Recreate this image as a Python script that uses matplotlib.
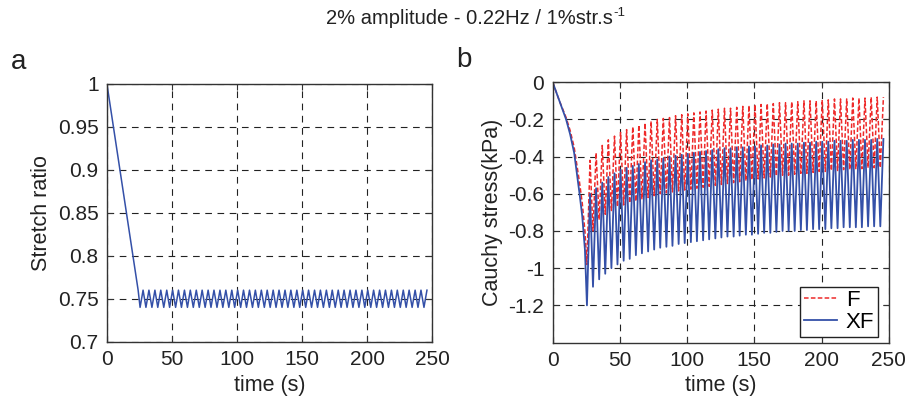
import matplotlib
matplotlib.use("Agg")
import matplotlib.pyplot as plt
import numpy as np

plt.rcParams['font.family'] = ['Liberation Sans', 'DejaVu Sans']

# ---------------- data ----------------
ramp_time = [0, 5, 10, 13, 16, 20, 22, 24]
stretch_ramp = [1.0, 0.95, 0.90, 0.87, 0.84, 0.80, 0.78, 0.76]
xf_ramp = [0.0, -0.10, -0.20, -0.28, -0.38, -0.60, -0.72, -0.90]
f_ramp = [0.0, -0.10, -0.19, -0.26, -0.35, -0.54, -0.65, -0.80]

trough_time = [25.5, 30.0, 34.6, 39.1, 43.7, 48.2, 52.8, 57.3, 61.9, 66.4,
               71.0, 75.5, 80.0, 84.6, 89.1, 93.7, 98.2, 102.8, 107.3, 111.9,
               116.4, 121.0, 125.5, 130.0, 134.6, 139.1, 143.7, 148.2, 152.8, 157.3,
               161.9, 166.4, 171.0, 175.5, 180.0, 184.6, 189.1, 193.7, 198.2, 202.8,
               207.3, 211.9, 216.4, 221.0, 225.5, 230.0, 234.6, 239.1, 243.7]
peak_time = [27.8, 32.3, 36.9, 41.4, 46.0, 50.5, 55.0, 59.6, 64.1, 68.7,
             73.2, 77.8, 82.3, 86.9, 91.4, 96.0, 100.5, 105.0, 109.6, 114.1,
             118.7, 123.2, 127.8, 132.3, 136.9, 141.4, 146.0, 150.5, 155.0, 159.6,
             164.1, 168.7, 173.2, 177.8, 182.3, 186.9, 191.4, 196.0, 200.5, 205.0,
             209.6, 214.1, 218.7, 223.2, 227.8, 232.3, 236.9, 241.4, 246.0]

stretch_trough = [0.74, 0.74, 0.74, 0.74, 0.74, 0.74, 0.74, 0.74, 0.74, 0.74,
                  0.74, 0.74, 0.74, 0.74, 0.74, 0.74, 0.74, 0.74, 0.74, 0.74,
                  0.74, 0.74, 0.74, 0.74, 0.74, 0.74, 0.74, 0.74, 0.74, 0.74,
                  0.74, 0.74, 0.74, 0.74, 0.74, 0.74, 0.74, 0.74, 0.74, 0.74,
                  0.74, 0.74, 0.74, 0.74, 0.74, 0.74, 0.74, 0.74, 0.74]
stretch_peak = [0.76, 0.76, 0.76, 0.76, 0.76, 0.76, 0.76, 0.76, 0.76, 0.76,
                0.76, 0.76, 0.76, 0.76, 0.76, 0.76, 0.76, 0.76, 0.76, 0.76,
                0.76, 0.76, 0.76, 0.76, 0.76, 0.76, 0.76, 0.76, 0.76, 0.76,
                0.76, 0.76, 0.76, 0.76, 0.76, 0.76, 0.76, 0.76, 0.76, 0.76,
                0.76, 0.76, 0.76, 0.76, 0.76, 0.76, 0.76, 0.76, 0.76]

xf_trough = [-1.20, -1.10, -1.06, -1.03, -1.00, -0.98, -0.96, -0.95, -0.93, -0.92,
             -0.91, -0.90, -0.89, -0.885, -0.88, -0.87, -0.865, -0.86, -0.855, -0.85,
             -0.845, -0.84, -0.835, -0.83, -0.83, -0.825, -0.82, -0.82, -0.815, -0.81,
             -0.81, -0.805, -0.80, -0.80, -0.80, -0.795, -0.795, -0.79, -0.79, -0.79,
             -0.785, -0.785, -0.78, -0.78, -0.78, -0.78, -0.775, -0.775, -0.775]
xf_peak = [-0.60, -0.57, -0.54, -0.51, -0.49, -0.47, -0.46, -0.45, -0.44, -0.43,
           -0.42, -0.415, -0.41, -0.40, -0.395, -0.39, -0.385, -0.38, -0.375, -0.37,
           -0.365, -0.36, -0.355, -0.355, -0.35, -0.35, -0.345, -0.345, -0.34, -0.34,
           -0.335, -0.335, -0.33, -0.33, -0.33, -0.325, -0.325, -0.32, -0.32, -0.32,
           -0.315, -0.315, -0.315, -0.31, -0.31, -0.31, -0.31, -0.305, -0.305]

f_trough = [-0.98, -0.80, -0.74, -0.71, -0.69, -0.67, -0.66, -0.65, -0.64, -0.63,
            -0.62, -0.61, -0.60, -0.595, -0.59, -0.585, -0.58, -0.575, -0.57, -0.565,
            -0.56, -0.555, -0.55, -0.545, -0.54, -0.535, -0.53, -0.525, -0.52, -0.515,
            -0.51, -0.505, -0.50, -0.50, -0.495, -0.49, -0.49, -0.485, -0.48, -0.48,
            -0.475, -0.475, -0.47, -0.47, -0.465, -0.465, -0.46, -0.46, -0.46]
f_peak = [-0.42, -0.38, -0.34, -0.31, -0.29, -0.27, -0.255, -0.24, -0.23, -0.22,
          -0.21, -0.20, -0.195, -0.19, -0.18, -0.175, -0.17, -0.165, -0.16, -0.155,
          -0.15, -0.145, -0.14, -0.14, -0.135, -0.13, -0.125, -0.12, -0.12, -0.115,
          -0.115, -0.11, -0.11, -0.105, -0.105, -0.10, -0.10, -0.10, -0.095, -0.095,
          -0.09, -0.09, -0.09, -0.085, -0.085, -0.085, -0.08, -0.08, -0.08]

x_ticks = [0, 50, 100, 150, 200, 250]
stretch_ticks = [0.7, 0.75, 0.8, 0.85, 0.9, 0.95, 1.0]
stretch_ticklabels = ["0.7", "0.75", "0.8", "0.85", "0.9", "0.95", "1"]
stress_ticks = [-1.2, -1.0, -0.8, -0.6, -0.4, -0.2, 0.0]
stress_ticklabels = ["-1.2", "-1", "-0.8", "-0.6", "-0.4", "-0.2", "0"]
series_names = ["F", "XF"]


def series(ramp_vals, troughs, peaks):
    t = list(ramp_time)
    v = list(ramp_vals)
    for tt, tv, pt, pv in zip(trough_time, troughs, peak_time, peaks):
        t += [tt, pt]
        v += [tv, pv]
    return np.array(t), np.array(v)


BLUE = "#3450a8"
RED = "#ee2a2a"
FS = 15

fig = plt.figure(figsize=(9.06, 4.03), dpi=100)
axL = fig.add_axes([0.118, 0.152, 0.359, 0.640])
axR = fig.add_axes([0.610, 0.150, 0.371, 0.646])


def style(ax):
    for s in ax.spines.values():
        s.set_color("#333333")
        s.set_linewidth(1.0)
    ax.tick_params(direction="in", length=4, width=0.8, colors="#333333",
                   labelsize=FS, labelcolor="#222222", top=True, right=True, pad=6)
    ax.grid(True, color="#222222", linestyle=(0, (6, 5)), linewidth=0.8)
    ax.set_axisbelow(True)
    ax.set_xlim(0, 250)
    ax.set_xticks(x_ticks)
    ax.set_xlabel("time (s)", fontsize=FS + 0.5, color="#222222")


tS, vS = series(stretch_ramp, stretch_trough, stretch_peak)
axL.plot(tS, vS, color=BLUE, lw=1.1)
style(axL)
axL.set_ylim(0.7, 1.0)
axL.set_yticks(stretch_ticks)
axL.set_yticklabels(stretch_ticklabels)
axL.set_ylabel("Stretch ratio", fontsize=FS + 0.5, color="#222222")

tF, vF = series(f_ramp, f_trough, f_peak)
tX, vX = series(xf_ramp, xf_trough, xf_peak)
axR.plot(tF, vF, color=RED, lw=1.1, linestyle=(0, (3, 1.5)), label=series_names[0])
axR.plot(tX, vX, color=BLUE, lw=1.3, label=series_names[1])
style(axR)
axR.set_ylim(-1.4, 0.0)
axR.set_yticks(stress_ticks)
axR.set_yticklabels(stress_ticklabels)
axR.set_ylabel("Cauchy stress(kPa)", fontsize=FS + 0.5, color="#222222")
leg = axR.legend(loc="lower right", bbox_to_anchor=(0.967, 0.023),
                 fontsize=FS + 1, frameon=True, fancybox=False,
                 framealpha=1, edgecolor="#222222", handlelength=1.5,
                 borderpad=0.15, labelspacing=0.05, handletextpad=0.4,
                 borderaxespad=0.0)
leg.get_frame().set_linewidth(1.0)

title = fig.text(0.518, 0.955, "2% amplitude - 0.22Hz / 1%str.s", ha="center",
                 va="center", fontsize=14.5, color="#222222")
fig.canvas.draw()
bb = title.get_window_extent(renderer=fig.canvas.get_renderer())
fig.text(bb.x1 / fig.bbox.width + 0.001, bb.y1 / fig.bbox.height - 0.012, "-1",
         ha="left", va="center", fontsize=9.5, color="#222222")
fig.text(0.012, 0.845, "a", fontsize=20, color="#222222", va="center")
fig.text(0.503, 0.850, "b", fontsize=20, color="#222222", va="center")

fig.savefig("out.png", dpi=100)
